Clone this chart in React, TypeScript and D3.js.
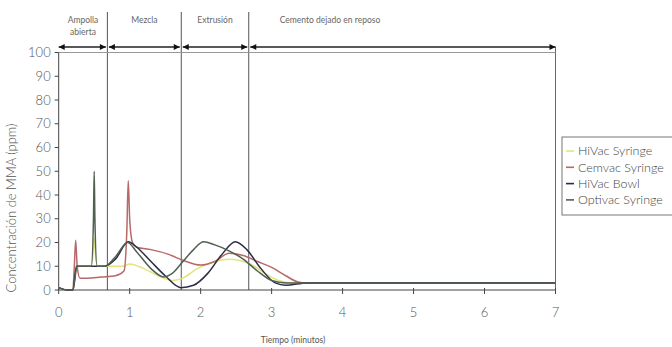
import React from "react";
import * as d3 from "d3";

const xTicks = [0, 1, 2, 3, 4, 5, 6, 7];
const yTicks = [0, 10, 20, 30, 40, 50, 60, 70, 80, 90, 100];
const phaseBounds = [0, 0.686, 1.727, 2.678, 7];
const phaseLabels = [["Ampolla", "abierta"], ["Mezcla"], ["Extrusión"], ["Cemento dejado en reposo"]];

const seriesNames = ["HiVac Syringe", "Cemvac Syringe", "HiVac Bowl", "Optivac Syringe"];
const seriesColors = ["#e2e47c", "#b86868", "#2c2c48", "#4f6052"];

const hivacSyringe: [number, number][] = [
  [0, 1], [0.12, 0], [0.2, 0], [0.25, 9], [0.3, 10], [0.45, 10], [0.48, 14], [0.5, 22], [0.52, 14], [0.55, 10],
  [0.9, 10], [1.0, 11], [1.2, 9], [1.4, 6], [1.6, 4], [1.75, 5], [1.95, 9], [2.2, 12], [2.4, 13], [2.7, 11],
  [2.9, 7], [3.1, 4], [3.3, 3], [7, 3],
];
const cemvacSyringe: [number, number][] = [
  [0, 1], [0.12, 0], [0.2, 0], [0.22, 10], [0.24, 21], [0.26, 10], [0.3, 5], [0.4, 5], [0.6, 5.5], [0.8, 6],
  [0.92, 8], [0.96, 25], [0.98, 46], [1.0, 30], [1.04, 20], [1.1, 18], [1.3, 17], [1.55, 15], [1.75, 12.5],
  [2.0, 10.5], [2.2, 12], [2.4, 15.5], [2.6, 14.5], [2.8, 12], [3.0, 9.5], [3.2, 6], [3.36, 3.5], [3.5, 3], [7, 3],
];
const hivacBowl: [number, number][] = [
  [0, 1], [0.12, 0], [0.2, 0], [0.25, 10], [0.3, 10], [0.65, 10], [0.8, 13], [0.98, 20.3], [1.1, 18], [1.3, 12],
  [1.5, 6], [1.72, 1], [1.9, 2], [2.1, 7], [2.3, 15], [2.49, 20.3], [2.65, 17], [2.85, 9], [3.05, 3], [3.2, 2],
  [3.5, 3], [7, 3],
];
const optivacSyringe: [number, number][] = [
  [0, 1], [0.12, 0], [0.2, 0], [0.26, 10], [0.3, 10], [0.46, 10], [0.49, 30], [0.5, 50], [0.51, 30], [0.54, 10],
  [0.65, 10], [0.8, 14], [0.97, 20], [1.1, 16], [1.3, 9], [1.48, 5.5], [1.6, 7], [1.75, 12], [1.9, 17],
  [2.04, 20.3], [2.2, 19], [2.4, 16.5], [2.6, 13], [2.8, 8], [3.0, 4], [3.2, 3], [7, 3],
];
const allSeries = [hivacSyringe, cemvacSyringe, hivacBowl, optivacSyringe];

export default function App() {
  const x = d3.scaleLinear().domain([0, 7]).range([58.7, 555.5]);
  const y = d3.scaleLinear().domain([0, 100]).range([290, 52.5]);
  const line = d3
    .line<[number, number]>()
    .x((d) => x(d[0]))
    .y((d) => y(d[1]))
    .curve(d3.curveMonotoneX);
  const font = "Lato, 'Open Sans', sans-serif";
  const arrowY = 47;
  return (
    <svg width={672} height={347} style={{ position: "absolute", left: 0, top: 0, background: "#fff" }} fontFamily={font}>
      <defs>
        <marker id="ah" viewBox="0 0 10 10" refX="10" refY="5" markerWidth="7" markerHeight="6" orient="auto-start-reverse" markerUnits="userSpaceOnUse">
          <path d="M0,0 L10,5 L0,10 z" fill="#111" />
        </marker>
      </defs>
      {phaseBounds.slice(1, 4).map((b, i) => (
        <line key={i} x1={x(b)} x2={x(b)} y1={12} y2={y(0)} stroke="#555" strokeWidth={1} />
      ))}
      <line x1={x(7)} x2={x(7)} y1={arrowY} y2={y(0)} stroke="#666" strokeWidth={1} />
      <line x1={x(0)} x2={x(7)} y1={y(100)} y2={y(100)} stroke="#999" strokeWidth={1} />
      {phaseBounds.slice(0, 4).map((b, i) => (
        <line key={i} x1={x(b) + (i === 0 ? 0 : 1.5)} x2={x(phaseBounds[i + 1]) - (i === 3 ? 0 : 1.5)} y1={arrowY} y2={arrowY}
          stroke="#222" strokeWidth={1.6} markerStart="url(#ah)" markerEnd="url(#ah)" />
      ))}
      {phaseLabels.map((lab, i) => {
        const cx = (x(phaseBounds[i]) + x(phaseBounds[i + 1])) / 2;
        const cxx = i === 3 ? 330 : cx;
        return lab.map((t, j) => (
          <text key={i + "-" + j} x={cxx} y={23 + j * 12} fontSize={8.5} fill="#666" textAnchor="middle">{t}</text>
        ));
      })}
      <line x1={x(0)} x2={x(0)} y1={y(100)} y2={y(0)} stroke="#444" strokeWidth={1} />
      <line x1={x(0)} x2={x(7)} y1={y(0)} y2={y(0)} stroke="#444" strokeWidth={1} />
      {yTicks.map((t) => (
        <g key={t}>
          <line x1={x(0) - 4} x2={x(0)} y1={y(t)} y2={y(t)} stroke="#444" />
          <text x={x(0) - 8} y={y(t)} dy="0.35em" fontSize={13} fontWeight={300} fill="#555" textAnchor="end">{t}</text>
        </g>
      ))}
      {xTicks.map((t) => (
        <g key={t}>
          <line x1={x(t)} x2={x(t)} y1={y(0) - 2} y2={y(0) + 4} stroke="#444" />
          <text x={x(t)} y={317} fontSize={13} fontWeight={300} fill="#555" textAnchor="middle">{t}</text>
        </g>
      ))}
      <text x={293} y={343} fontSize={8.5} fill="#555" textAnchor="middle">Tiempo (minutos)</text>
      <text transform={`translate(16,208) rotate(-90)`} fontSize={13} fontWeight={300} fill="#555" textAnchor="middle">Concentración de MMA (ppm)</text>
      {allSeries.map((s, i) => (
        <path key={i} d={line(s) || ""} fill="none" stroke={seriesColors[i]} strokeWidth={1.5} />
      ))}
      <rect x={562} y={137} width={112} height={78} fill="#fff" stroke="#777" strokeWidth={1} />
      {seriesNames.map((n, i) => (
        <g key={n}>
          <line x1={566} x2={574} y1={151 + i * 16.3} y2={151 + i * 16.3} stroke={seriesColors[i]} strokeWidth={1.6} />
          <text x={578} y={151 + i * 16.3} dy="0.35em" fontSize={12.5} fontWeight={300} fill="#444">{n}</text>
        </g>
      ))}
    </svg>
  );
}
